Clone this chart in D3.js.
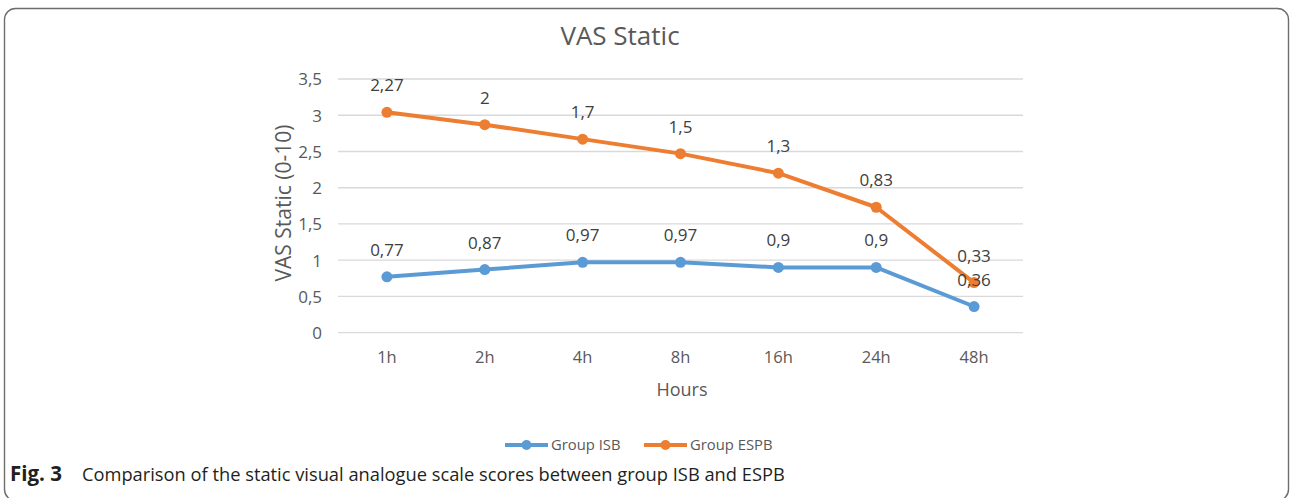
<!DOCTYPE html>
<html><head><meta charset="utf-8">
<script src="https://cdn.jsdelivr.net/npm/d3@7"></script>
<style>
body{margin:0;background:#fff;}
svg{display:block;}
</style></head>
<body>
<svg id="chart" width="1290" height="498"></svg>
<script>
const categories = ["1h","2h","4h","8h","16h","24h","48h"];
const isbValues  = [0.77,0.87,0.97,0.97,0.9,0.9,0.36];
const espbValues = [2.27,2,1.7,1.5,1.3,0.83,0.33];
const yTicks = [0,0.5,1,1.5,2,2.5,3,3.5];
const seriesNames = ["Group ISB","Group ESPB"];
const colors = ["#5B9BD5","#ED7D31"];

const fmt = v => String(v).replace(".", ",");
const font = "'Open Sans', sans-serif";
const svg = d3.select("#chart");

// frame (bottom edge falls just outside the picture)
svg.append("rect").attr("x",4.5).attr("y",8.5).attr("width",1284).attr("height",492)
  .attr("rx",11).attr("fill","none").attr("stroke","#6d6d6d").attr("stroke-width",1.4);

const x = d3.scaleBand().domain(categories).range([338,1023]);
const y = d3.scaleLinear().domain([0,3.5]).range([332.6,79]);

// grid
svg.append("g").selectAll("line").data(yTicks).join("line")
  .attr("x1",338).attr("x2",1023)
  .attr("y1",d=>y(d)).attr("y2",d=>y(d))
  .attr("stroke","#d9d9d9").attr("stroke-width",1.4);

// y axis labels
const yAxis = d3.axisLeft(y).tickValues(yTicks).tickFormat(fmt).tickSize(0).tickPadding(0);
const gy = svg.append("g").attr("transform","translate(322,0)").call(yAxis);
gy.select(".domain").remove();
gy.selectAll("text").attr("font-family",font).attr("font-size",17).attr("fill","#595959").attr("dy","0.35em");

// x axis labels
const xAxis = d3.axisBottom(x).tickSize(0).tickPadding(0);
const gx = svg.append("g").attr("transform","translate(0,363)").call(xAxis);
gx.select(".domain").remove();
gx.selectAll("text").attr("font-family",font).attr("font-size",16.5).attr("fill","#595959").attr("dy","0");

// titles
svg.append("text").attr("x",620).attr("y",45).attr("text-anchor","middle")
  .attr("font-family",font).attr("font-size",26).attr("fill","#595959").text("VAS Static");
svg.append("text").attr("x",682).attr("y",396).attr("text-anchor","middle")
  .attr("font-family",font).attr("font-size",18).attr("fill","#595959").text("Hours");
svg.append("text").attr("transform","translate(291,203) rotate(-90)").attr("text-anchor","middle")
  .attr("font-family",font).attr("font-size",21).attr("fill","#595959").text("VAS Static (0-10)");

// stacked data (ESPB drawn on top of ISB, labels show own values)
const stackTop = espbValues.map((v,i)=>v+isbValues[i]);
const seriesData = [
  categories.map((c,i)=>({c, pos:isbValues[i], label:isbValues[i]})),
  categories.map((c,i)=>({c, pos:stackTop[i], label:espbValues[i]}))
];
const cx = c => x(c)+x.bandwidth()/2;
const line = d3.line().x(d=>cx(d.c)).y(d=>y(d.pos));

seriesData.forEach((data,si)=>{
  const g = svg.append("g");
  g.append("path").datum(data).attr("d",line).attr("fill","none")
    .attr("stroke",colors[si]).attr("stroke-width",4).attr("stroke-linejoin","round");
  g.selectAll("circle").data(data).join("circle")
    .attr("cx",d=>cx(d.c)).attr("cy",d=>y(d.pos)).attr("r",5.5).attr("fill",colors[si]);
});
seriesData.forEach((data,si)=>{
  svg.append("g").selectAll("text").data(data).join("text")
    .attr("x",d=>cx(d.c)).attr("y",d=>y(d.pos)-21).attr("text-anchor","middle")
    .attr("font-family",font).attr("font-size",17).attr("fill","#404040")
    .text(d=>fmt(d.label));
});

// legend
const legendX = [505,644];
seriesNames.forEach((n,i)=>{
  const g = svg.append("g").attr("transform",`translate(${legendX[i]},445)`);
  g.append("line").attr("x1",0).attr("x2",43).attr("stroke",colors[i]).attr("stroke-width",4);
  g.append("circle").attr("cx",21.5).attr("r",5).attr("fill",colors[i]);
  g.append("text").attr("x",46).attr("y",0).attr("dy","0.35em")
    .attr("font-family",font).attr("font-size",14.8).attr("fill","#595959").text(n);
});

// caption
svg.append("text").attr("x",10).attr("y",481)
  .attr("font-family",font).attr("font-size",20.5).attr("font-weight","bold").attr("fill","#231f20")
  .text("Fig. 3");
svg.append("text").attr("x",82).attr("y",481)
  .attr("font-family",font).attr("font-size",18.3).attr("fill","#231f20")
  .text("Comparison of the static visual analogue scale scores between group ISB and ESPB");
</script>
</body></html>
